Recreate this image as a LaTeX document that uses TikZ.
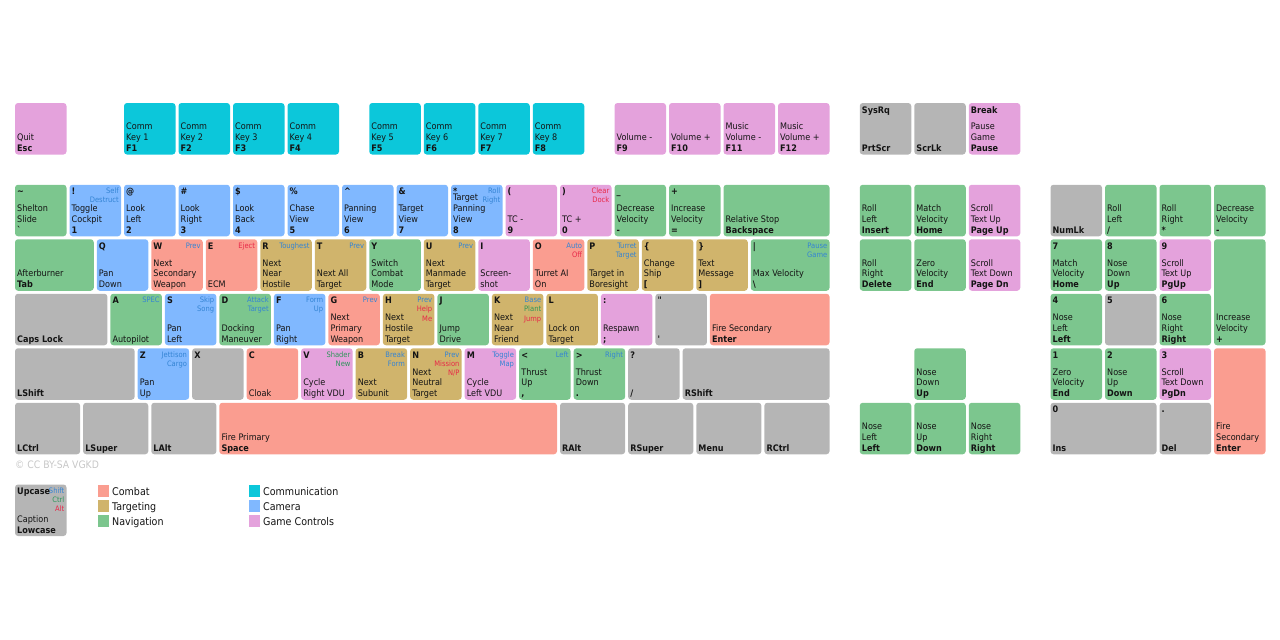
\documentclass[tikz,border=0pt]{standalone}
\usepackage{fontspec}
\setmainfont{DejaVu Sans Condensed}
\usetikzlibrary{calc}
\definecolor{cb}{RGB}{250,157,144}
\definecolor{tg}{RGB}{208,180,108}
\definecolor{nv}{RGB}{124,198,142}
\definecolor{cm}{RGB}{12,199,218}
\definecolor{ca}{RGB}{128,184,255}
\definecolor{gc}{RGB}{228,162,220}
\definecolor{gy}{RGB}{181,181,181}
\definecolor{sh}{RGB}{52,132,212}
\definecolor{ct}{RGB}{46,150,90}
\definecolor{al}{RGB}{232,40,72}
\definecolor{tx}{RGB}{20,20,20}
\newcommand\kS[1]{\textcolor{sh}{#1}}
\newcommand\kC[1]{\textcolor{ct}{#1}}
\newcommand\kA[1]{\textcolor{al}{#1}}
\tikzset{
  keybox/.style={anchor=north west, rounded corners=3pt, inner sep=0pt, outer sep=0pt, draw=none},
  uptext/.style={anchor=base west, inner sep=0pt, text=tx, font=\fontsize{9}{10.8}\selectfont\bfseries},
  smalltext/.style={anchor=base east, inner sep=0pt, font=\fontsize{7.5}{9.2}\selectfont},
  captext/.style={anchor=base west, inner sep=0pt, text=tx, font=\fontsize{9}{10.8}\selectfont},
  swatch/.style={anchor=north west, inner sep=0pt, minimum width=11.5pt, minimum height=12pt},
  lgtext/.style={anchor=base west, inner sep=0pt, text=tx, font=\fontsize{10.6}{12}\selectfont}
}
% #1 name #2 col #3 row #4 w #5 h #6 colour #7 upcase #8 small labels #9 caption/lowcase
\newcommand\Key[9]{%
  \node[keybox, fill=#6, minimum width={#4*54.5-3}, minimum height={#5*54.5-3}] (#1) at ({15+#2*54.5},{103+#3*54.5}) {};
  \node[uptext] (#1-u) at ($(#1.north west)+(2pt,-10pt)$) {#7};
  \node[smalltext] (#1-s) at ($(#1.north east)+(-2pt,-9pt)$) {\begin{tabular}[t]{@{}r@{}}#8\end{tabular}};
  \node[captext] (#1-c) at ($(#1.south west)+(2pt,3pt)$) {\begin{tabular}[b]{@{}l@{}}#9\end{tabular}};
}
\begin{document}
\begin{tikzpicture}[x=1pt,y=-1pt]
\useasboundingbox (0,0) rectangle (1280,640);
% function row
\Key{esc}{0}{0}{1}{1}{gc}{}{}{Quit\\\textbf{Esc}}
\Key{f1}{2}{0}{1}{1}{cm}{}{}{Comm\\Key 1\\\textbf{F1}}
\Key{f2}{3}{0}{1}{1}{cm}{}{}{Comm\\Key 2\\\textbf{F2}}
\Key{f3}{4}{0}{1}{1}{cm}{}{}{Comm\\Key 3\\\textbf{F3}}
\Key{f4}{5}{0}{1}{1}{cm}{}{}{Comm\\Key 4\\\textbf{F4}}
\Key{f5}{6.5}{0}{1}{1}{cm}{}{}{Comm\\Key 5\\\textbf{F5}}
\Key{f6}{7.5}{0}{1}{1}{cm}{}{}{Comm\\Key 6\\\textbf{F6}}
\Key{f7}{8.5}{0}{1}{1}{cm}{}{}{Comm\\Key 7\\\textbf{F7}}
\Key{f8}{9.5}{0}{1}{1}{cm}{}{}{Comm\\Key 8\\\textbf{F8}}
\Key{f9}{11}{0}{1}{1}{gc}{}{}{Volume -\\\textbf{F9}}
\Key{f10}{12}{0}{1}{1}{gc}{}{}{Volume +\\\textbf{F10}}
\Key{f11}{13}{0}{1}{1}{gc}{}{}{Music\\Volume -\\\textbf{F11}}
\Key{f12}{14}{0}{1}{1}{gc}{}{}{Music\\Volume +\\\textbf{F12}}
\Key{prt}{15.5}{0}{1}{1}{gy}{SysRq}{}{\textbf{PrtScr}}
\Key{scr}{16.5}{0}{1}{1}{gy}{}{}{\textbf{ScrLk}}
\Key{pause}{17.5}{0}{1}{1}{gc}{Break}{}{Pause\\Game\\\textbf{Pause}}
% number row
\Key{grave}{0}{1.5}{1}{1}{nv}{\textasciitilde}{}{Shelton\\Slide\\\textbf{\textasciigrave}}
\Key{n1}{1}{1.5}{1}{1}{ca}{!}{\kS{Self}\\\kS{Destruct}}{Toggle\\Cockpit\\\textbf{1}}
\Key{n2}{2}{1.5}{1}{1}{ca}{@}{}{Look\\Left\\\textbf{2}}
\Key{n3}{3}{1.5}{1}{1}{ca}{\#}{}{Look\\Right\\\textbf{3}}
\Key{n4}{4}{1.5}{1}{1}{ca}{\$}{}{Look\\Back\\\textbf{4}}
\Key{n5}{5}{1.5}{1}{1}{ca}{\%}{}{Chase\\View\\\textbf{5}}
\Key{n6}{6}{1.5}{1}{1}{ca}{\textasciicircum}{}{Panning\\View\\\textbf{6}}
\Key{n7}{7}{1.5}{1}{1}{ca}{\&}{}{Target\\View\\\textbf{7}}
\Key{n8}{8}{1.5}{1}{1}{ca}{*}{\kS{Roll}\\\kS{Right}}{Target\\Panning\\View\\\textbf{8}}
\Key{n9}{9}{1.5}{1}{1}{gc}{(}{}{TC -\\\textbf{9}}
\Key{n0}{10}{1.5}{1}{1}{gc}{)}{\kA{Clear}\\\kA{Dock}}{TC +\\\textbf{0}}
\Key{minus}{11}{1.5}{1}{1}{nv}{\_}{}{Decrease\\Velocity\\\textbf{-}}
\Key{equal}{12}{1.5}{1}{1}{nv}{+}{}{Increase\\Velocity\\\textbf{=}}
\Key{bksp}{13}{1.5}{2}{1}{nv}{}{}{Relative Stop\\\textbf{Backspace}}
% tab row
\Key{tab}{0}{2.5}{1.5}{1}{nv}{}{}{Afterburner\\\textbf{Tab}}
\Key{q}{1.5}{2.5}{1}{1}{ca}{Q}{}{Pan\\Down}
\Key{w}{2.5}{2.5}{1}{1}{cb}{W}{\kS{Prev}}{Next\\Secondary\\Weapon}
\Key{e}{3.5}{2.5}{1}{1}{cb}{E}{\kA{Eject}}{ECM}
\Key{r}{4.5}{2.5}{1}{1}{tg}{R}{\kS{Toughest}}{Next\\Near\\Hostile}
\Key{t}{5.5}{2.5}{1}{1}{tg}{T}{\kS{Prev}}{Next All\\Target}
\Key{y}{6.5}{2.5}{1}{1}{nv}{Y}{}{Switch\\Combat\\Mode}
\Key{u}{7.5}{2.5}{1}{1}{tg}{U}{\kS{Prev}}{Next\\Manmade\\Target}
\Key{i}{8.5}{2.5}{1}{1}{gc}{I}{}{Screen-\\shot}
\Key{o}{9.5}{2.5}{1}{1}{cb}{O}{\kS{Auto}\\\kA{Off}}{Turret AI\\On}
\Key{p}{10.5}{2.5}{1}{1}{tg}{P}{\kS{Turret}\\\kS{Target}}{Target in\\Boresight}
\Key{lbr}{11.5}{2.5}{1}{1}{tg}{\{}{}{Change\\Ship\\\textbf{[}}
\Key{rbr}{12.5}{2.5}{1}{1}{tg}{\}}{}{Text\\Message\\\textbf{]}}
\Key{bsl}{13.5}{2.5}{1.5}{1}{nv}{\textbar}{\kS{Pause}\\\kS{Game}}{Max Velocity\\\textbf{\textbackslash}}
% caps row
\Key{caps}{0}{3.5}{1.75}{1}{gy}{}{}{\textbf{Caps Lock}}
\Key{a}{1.75}{3.5}{1}{1}{nv}{A}{\kS{SPEC}}{Autopilot}
\Key{s}{2.75}{3.5}{1}{1}{ca}{S}{\kS{Skip}\\\kS{Song}}{Pan\\Left}
\Key{d}{3.75}{3.5}{1}{1}{nv}{D}{\kS{Attack}\\\kS{Target}}{Docking\\Maneuver}
\Key{f}{4.75}{3.5}{1}{1}{ca}{F}{\kS{Form}\\\kS{Up}}{Pan\\Right}
\Key{g}{5.75}{3.5}{1}{1}{cb}{G}{\kS{Prev}}{Next\\Primary\\Weapon}
\Key{h}{6.75}{3.5}{1}{1}{tg}{H}{\kS{Prev}\\\kA{Help}\\\kA{Me}}{Next\\Hostile\\Target}
\Key{j}{7.75}{3.5}{1}{1}{nv}{J}{}{Jump\\Drive}
\Key{k}{8.75}{3.5}{1}{1}{tg}{K}{\kS{Base}\\\kC{Plant}\\\kA{Jump}}{Next\\Near\\Friend}
\Key{l}{9.75}{3.5}{1}{1}{tg}{L}{}{Lock on\\Target}
\Key{semi}{10.75}{3.5}{1}{1}{gc}{:}{}{Respawn\\\textbf{;}}
\Key{quote}{11.75}{3.5}{1}{1}{gy}{\textquotedbl}{}{\textbf{\textquotesingle}}
\Key{enter}{12.75}{3.5}{2.25}{1}{cb}{}{}{Fire Secondary\\\textbf{Enter}}
% shift row
\Key{lshift}{0}{4.5}{2.25}{1}{gy}{}{}{\textbf{LShift}}
\Key{z}{2.25}{4.5}{1}{1}{ca}{Z}{\kS{Jettison}\\\kS{Cargo}}{Pan\\Up}
\Key{x}{3.25}{4.5}{1}{1}{gy}{X}{}{}
\Key{c}{4.25}{4.5}{1}{1}{cb}{C}{}{Cloak}
\Key{v}{5.25}{4.5}{1}{1}{gc}{V}{\kC{Shader}\\\kC{New}}{Cycle\\Right VDU}
\Key{b}{6.25}{4.5}{1}{1}{tg}{B}{\kS{Break}\\\kS{Form}}{Next\\Subunit}
\Key{n}{7.25}{4.5}{1}{1}{tg}{N}{\kS{Prev}\\\kA{Mission}\\\kA{N/P}}{Next\\Neutral\\Target}
\Key{m}{8.25}{4.5}{1}{1}{gc}{M}{\kS{Toggle}\\\kS{Map}}{Cycle\\Left VDU}
\Key{comma}{9.25}{4.5}{1}{1}{nv}{<}{\kS{Left}}{Thrust\\Up\\\textbf{,}}
\Key{period}{10.25}{4.5}{1}{1}{nv}{>}{\kS{Right}}{Thrust\\Down\\\textbf{.}}
\Key{slash}{11.25}{4.5}{1}{1}{gy}{?}{}{\textbf{/}}
\Key{rshift}{12.25}{4.5}{2.75}{1}{gy}{}{}{\textbf{RShift}}
% bottom row
\Key{lctrl}{0}{5.5}{1.25}{1}{gy}{}{}{\textbf{LCtrl}}
\Key{lsuper}{1.25}{5.5}{1.25}{1}{gy}{}{}{\textbf{LSuper}}
\Key{lalt}{2.5}{5.5}{1.25}{1}{gy}{}{}{\textbf{LAlt}}
\Key{space}{3.75}{5.5}{6.25}{1}{cb}{}{}{Fire Primary\\\textbf{Space}}
\Key{ralt}{10}{5.5}{1.25}{1}{gy}{}{}{\textbf{RAlt}}
\Key{rsuper}{11.25}{5.5}{1.25}{1}{gy}{}{}{\textbf{RSuper}}
\Key{menu}{12.5}{5.5}{1.25}{1}{gy}{}{}{\textbf{Menu}}
\Key{rctrl}{13.75}{5.5}{1.25}{1}{gy}{}{}{\textbf{RCtrl}}
% navigation cluster
\Key{ins}{15.5}{1.5}{1}{1}{nv}{}{}{Roll\\Left\\\textbf{Insert}}
\Key{home}{16.5}{1.5}{1}{1}{nv}{}{}{Match\\Velocity\\\textbf{Home}}
\Key{pgup}{17.5}{1.5}{1}{1}{gc}{}{}{Scroll\\Text Up\\\textbf{Page Up}}
\Key{del}{15.5}{2.5}{1}{1}{nv}{}{}{Roll\\Right\\\textbf{Delete}}
\Key{end}{16.5}{2.5}{1}{1}{nv}{}{}{Zero\\Velocity\\\textbf{End}}
\Key{pgdn}{17.5}{2.5}{1}{1}{gc}{}{}{Scroll\\Text Down\\\textbf{Page Dn}}
\Key{up}{16.5}{4.5}{1}{1}{nv}{}{}{Nose\\Down\\\textbf{Up}}
\Key{left}{15.5}{5.5}{1}{1}{nv}{}{}{Nose\\Left\\\textbf{Left}}
\Key{down}{16.5}{5.5}{1}{1}{nv}{}{}{Nose\\Up\\\textbf{Down}}
\Key{right}{17.5}{5.5}{1}{1}{nv}{}{}{Nose\\Right\\\textbf{Right}}
% numpad
\Key{numlk}{19}{1.5}{1}{1}{gy}{}{}{\textbf{NumLk}}
\Key{kpdiv}{20}{1.5}{1}{1}{nv}{}{}{Roll\\Left\\\textbf{/}}
\Key{kpmul}{21}{1.5}{1}{1}{nv}{}{}{Roll\\Right\\\textbf{*}}
\Key{kpsub}{22}{1.5}{1}{1}{nv}{}{}{Decrease\\Velocity\\\textbf{-}}
\Key{kp7}{19}{2.5}{1}{1}{nv}{7}{}{Match\\Velocity\\\textbf{Home}}
\Key{kp8}{20}{2.5}{1}{1}{nv}{8}{}{Nose\\Down\\\textbf{Up}}
\Key{kp9}{21}{2.5}{1}{1}{gc}{9}{}{Scroll\\Text Up\\\textbf{PgUp}}
\Key{kpadd}{22}{2.5}{1}{2}{nv}{}{}{Increase\\Velocity\\\textbf{+}}
\Key{kp4}{19}{3.5}{1}{1}{nv}{4}{}{Nose\\Left\\\textbf{Left}}
\Key{kp5}{20}{3.5}{1}{1}{gy}{5}{}{}
\Key{kp6}{21}{3.5}{1}{1}{nv}{6}{}{Nose\\Right\\\textbf{Right}}
\Key{kp1}{19}{4.5}{1}{1}{nv}{1}{}{Zero\\Velocity\\\textbf{End}}
\Key{kp2}{20}{4.5}{1}{1}{nv}{2}{}{Nose\\Up\\\textbf{Down}}
\Key{kp3}{21}{4.5}{1}{1}{gc}{3}{}{Scroll\\Text Down\\\textbf{PgDn}}
\Key{kpent}{22}{4.5}{1}{2}{cb}{}{}{Fire\\Secondary\\\textbf{Enter}}
\Key{kp0}{19}{5.5}{2}{1}{gy}{0}{}{\textbf{Ins}}
\Key{kpdot}{21}{5.5}{1}{1}{gy}{.}{}{\textbf{Del}}
% copyright
\node[anchor=base west, inner sep=0pt, text=black!22, font=\fontsize{10.3}{12}\selectfont] (copy) at (15,468) {© CC BY-SA VGKD};
% legend
\Key{legend}{0}{7}{1}{1}{gy}{Upcase}{\kS{Shift}\\\kC{Ctrl}\\\kA{Alt}}{Caption\\\textbf{Lowcase}}
\node[swatch, fill=cb] (sw1) at (97.3,484.7) {};
\node[lgtext] (lt1) at (112,495.3) {Combat};
\node[swatch, fill=tg] (sw2) at (97.3,499.7) {};
\node[lgtext] (lt2) at (112,510.3) {Targeting};
\node[swatch, fill=nv] (sw3) at (97.3,514.7) {};
\node[lgtext] (lt3) at (112,525.3) {Navigation};
\node[swatch, fill=cm] (sw4) at (248.3,484.7) {};
\node[lgtext] (lt4) at (263,495.3) {Communication};
\node[swatch, fill=ca] (sw5) at (248.3,499.7) {};
\node[lgtext] (lt5) at (263,510.3) {Camera};
\node[swatch, fill=gc] (sw6) at (248.3,514.7) {};
\node[lgtext] (lt6) at (263,525.3) {Game Controls};
\end{tikzpicture}
\end{document}
